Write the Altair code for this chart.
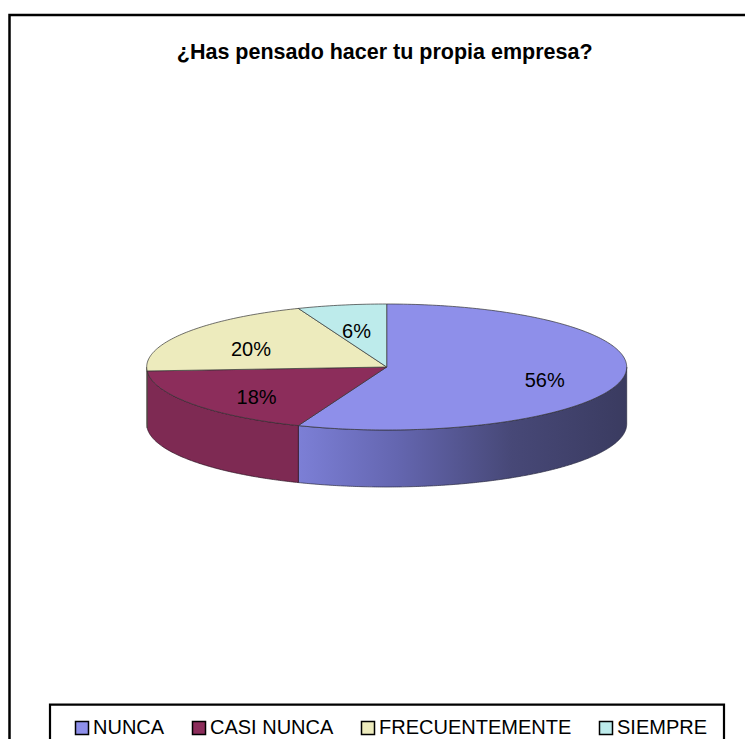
import math
import numpy as np
import pandas as pd
import altair as alt

# ---- data ----
categories = ["NUNCA", "CASI NUNCA", "FRECUENTEMENTE", "SIEMPRE"]
percentages = [56, 18, 20, 6]
title_text = "¿Has pensado hacer tu propia empresa?"

# ---- styles ----
top_colors = ["#8E8FEA", "#8C2D5B", "#EDEBBD", "#BDEBEB"]
casi_side = "#7E2A53"
frec_side = "#CFCD9E"
FONT = "Liberation Sans, Arial, sans-serif"

W, H = 737, 731
CX, CY = 378.7, 359.0       # pie centre (svg px)
RA, RB = 240.0, 63.0        # ellipse radii
DEPTH = 57.0                # thickness of the 3D pie
LABEL_R = 0.67
LABEL_DY = 6.0


def pt(theta_deg, r=1.0, dy=0.0):
    t = math.radians(theta_deg)
    return [CX + r * RA * math.sin(t), CY - r * RB * math.cos(t) + dy]


def arc(t0, t1, dy=0.0, step=1.0):
    n = max(2, int(math.ceil((t1 - t0) / step)) + 1)
    return [pt(t, 1.0, dy) for t in np.linspace(t0, t1, n)]


total = float(sum(percentages))
starts, ends, acc = [], [], 0.0
for v in percentages:
    starts.append(acc / total * 360.0)
    acc += v
    ends.append(acc / total * 360.0)

top_features, side_features = [], {}
for cat, t0, t1 in zip(categories, starts, ends):
    ring = [[CX, CY]] + arc(t0, t1) + [[CX, CY]]
    top_features.append({"type": "Feature", "properties": {"cat": cat},
                         "geometry": {"type": "Polygon", "coordinates": [ring]}})
    s0, s1 = max(t0, 90.0), min(t1, 270.0)
    if s1 > s0:
        upper = arc(s0, s1, step=0.5)
        lower = arc(s0, s1, DEPTH, step=0.5)[::-1]
        ring = upper + lower + [upper[0]]
        side_features[cat] = {"type": "Feature", "properties": {"cat": cat},
                              "geometry": {"type": "Polygon", "coordinates": [ring]}}

labels = []
for cat, v, t0, t1 in zip(categories, percentages, starts, ends):
    x, y = pt((t0 + t1) / 2.0, LABEL_R, LABEL_DY)
    labels.append({"lon": x, "lat": y, "txt": f"{v}%"})
labels_df = pd.DataFrame(labels)

PROJ = dict(type="identity", scale=1, translate=[0, 0])

frame = alt.Chart(alt.Data(values=[{"a": 1}])).mark_rect(
    fill=None, stroke="black", strokeWidth=2.5
).encode(x=alt.value(1.5), x2=alt.value(800), y=alt.value(7), y2=alt.value(800))

legend_box = alt.Chart(alt.Data(values=[{"a": 1}])).mark_rect(
    fill=None, stroke="black", strokeWidth=2.2
).encode(x=alt.value(42), x2=alt.value(716), y=alt.value(696.7), y2=alt.value(800))

title = alt.Chart(pd.DataFrame({"lon": [CX - 2], "lat": [45.0], "t": [title_text]})).mark_text(
    font=FONT, fontSize=21.5, fontWeight="bold", color="black", align="center", baseline="middle"
).encode(longitude="lon:Q", latitude="lat:Q", text="t:N").project(**PROJ)

side_layers = []
if "NUNCA" in side_features:
    side_layers.append(
        alt.Chart(alt.Data(values=[side_features["NUNCA"]])).mark_geoshape(
            fill=alt.Gradient(
                gradient="linear", x1=0, y1=0, x2=1, y2=0,
                stops=[alt.GradientStop(color="#7C7FD6", offset=0),
                       alt.GradientStop(color="#6466B0", offset=0.3),
                       alt.GradientStop(color="#474877", offset=0.65),
                       alt.GradientStop(color="#3A3B60", offset=1)]),
            stroke="#2A2A40", strokeWidth=0.7
        ).encode(opacity=alt.value(1)).project(**PROJ))
if "CASI NUNCA" in side_features:
    side_layers.append(
        alt.Chart(alt.Data(values=[side_features["CASI NUNCA"]])).mark_geoshape(
            fill=casi_side, stroke="#2A1020", strokeWidth=0.7
        ).encode(opacity=alt.value(1)).project(**PROJ))
if "FRECUENTEMENTE" in side_features:
    side_layers.append(
        alt.Chart(alt.Data(values=[side_features["FRECUENTEMENTE"]])).mark_geoshape(
            fill=frec_side, stroke="#333333", strokeWidth=0.5
        ).encode(opacity=alt.value(1)).project(**PROJ))

tops = alt.Chart(alt.Data(values=top_features)).mark_geoshape(
    stroke="#333333", strokeWidth=0.7
).encode(
    fill=alt.Fill("properties.cat:N",
                  scale=alt.Scale(domain=categories, range=top_colors),
                  legend=alt.Legend(orient="none", legendX=64, legendY=710,
                                    direction="horizontal", columns=4, title=None,
                                    symbolType="square", symbolSize=169,
                                    symbolStrokeColor="black", symbolStrokeWidth=1.5,
                                    symbolOpacity=1,
                                    labelFont=FONT, labelFontSize=20, labelColor="black",
                                    labelOffset=1, columnPadding=24, padding=0, labelLimit=0))
).project(**PROJ)

texts = alt.Chart(labels_df).mark_text(
    font=FONT, fontSize=20, color="black", align="center", baseline="middle"
).encode(longitude="lon:Q", latitude="lat:Q", text="txt:N").project(**PROJ)

chart = alt.layer(frame, legend_box, title, *side_layers, tops, texts).properties(
    width=W, height=H, autosize=alt.AutoSizeParams(type="none"), padding=0,
    background="white"
).configure_view(stroke=None)

chart.save("out.html", embed_options={"renderer": "svg", "actions": False})
